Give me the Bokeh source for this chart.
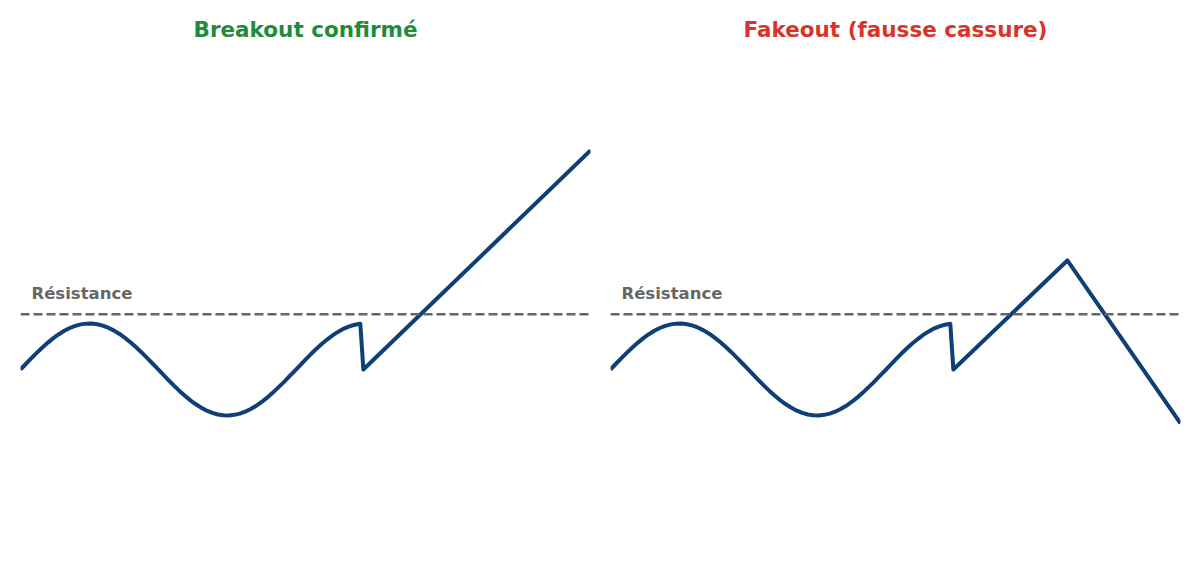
from bokeh.plotting import figure
from bokeh.layouts import row
from bokeh.models import Span, Label, Range1d
from bokeh.embed import file_html
from bokeh.resources import INLINE

# ---- data ----
titles = ["Breakout confirmé", "Fakeout (fausse cassure)"]
title_colors = ["#228b3b", "#d7352b"]

# oscillation below the resistance (shared by both panels)
wave_x = [0.0, 0.125, 0.25, 0.375, 0.5, 0.625, 0.75, 0.875, 1.0, 1.125, 1.25, 1.375,
          1.5, 1.625, 1.75, 1.875, 2.0, 2.125, 2.25, 2.375, 2.5, 2.625, 2.75, 2.875,
          3.0, 3.125, 3.25, 3.375, 3.5, 3.625, 3.75, 3.875, 4.0, 4.125, 4.25, 4.375,
          4.5, 4.625, 4.75, 4.875, 5.0, 5.125, 5.25, 5.375, 5.5, 5.625, 5.75, 5.875,
          6.0, 6.125, 6.25, 6.375, 6.5, 6.625, 6.75, 6.875, 7.0, 7.125, 7.25, 7.375,
          7.5, 7.625, 7.75]
wave_y = [0.000, 0.125, 0.247, 0.366, 0.479, 0.585, 0.682, 0.768, 0.841, 0.902, 0.949, 0.981,
          0.997, 0.999, 0.984, 0.954, 0.909, 0.851, 0.778, 0.694, 0.598, 0.494, 0.382, 0.264,
          0.141, 0.017, -0.108, -0.231, -0.351, -0.465, -0.572, -0.671, -0.757, -0.831, -0.895, -0.943,
          -0.978, -0.996, -0.999, -0.986, -0.959, -0.917, -0.859, -0.789, -0.706, -0.612, -0.508, -0.395,
          -0.279, -0.157, -0.033, 0.092, 0.215, 0.336, 0.451, 0.561, 0.657, 0.746, 0.823, 0.889,
          0.938, 0.973, 0.994]

# after the pull-back
breakout_x = [7.82, 13.0]
breakout_y = [0.0, 4.76]
fakeout_x = [7.82, 10.42, 13.0]
fakeout_y = [0.0, 2.37, -1.17]

resistance_level = 1.2
resistance_label = "Résistance"

x_range = (0.0, 13.0)
y_range = (-4.435, 8.022)

LINE = "#0e3f75"
GRAY = "#666666"
FONT = "DejaVu Sans"

panels = [(breakout_x, breakout_y), (fakeout_x, fakeout_y)]
borders = [(20, 10), (10, 20)]

figs = []
for i, (tx, ty) in enumerate(panels):
    p = figure(width=600, height=573, output_backend="svg", toolbar_location=None,
               x_range=Range1d(*x_range), y_range=Range1d(*y_range),
               x_axis_location=None, y_axis_location=None,
               min_border_left=borders[i][0], min_border_right=borders[i][1],
               min_border_top=0, min_border_bottom=0)
    p.grid.visible = False
    p.outline_line_color = None
    p.background_fill_color = "white"
    p.border_fill_color = "white"

    p.add_layout(Span(location=resistance_level, dimension="width",
                      line_color=GRAY, line_width=2.5, line_dash="9 4"))
    xs = wave_x + tx
    ys = wave_y + ty
    p.line(xs, ys, line_color=LINE, line_width=4, line_join="round", line_cap="butt")

    p.add_layout(Label(x=0.25, y=1.65, text=resistance_label, text_font=FONT,
                       text_font_style="bold", text_font_size="16.5px",
                       text_color=GRAY, text_baseline="alphabetic", text_align="left"))
    p.add_layout(Label(x=(x_range[0] + x_range[1]) / 2, y=7.39,
                       text=titles[i], text_font=FONT, text_font_style="bold",
                       text_font_size="21.5px", text_color=title_colors[i],
                       text_align="center", text_baseline="alphabetic"))
    figs.append(p)

layout = row(*figs)
open("out.html", "w").write(file_html(layout, INLINE))
